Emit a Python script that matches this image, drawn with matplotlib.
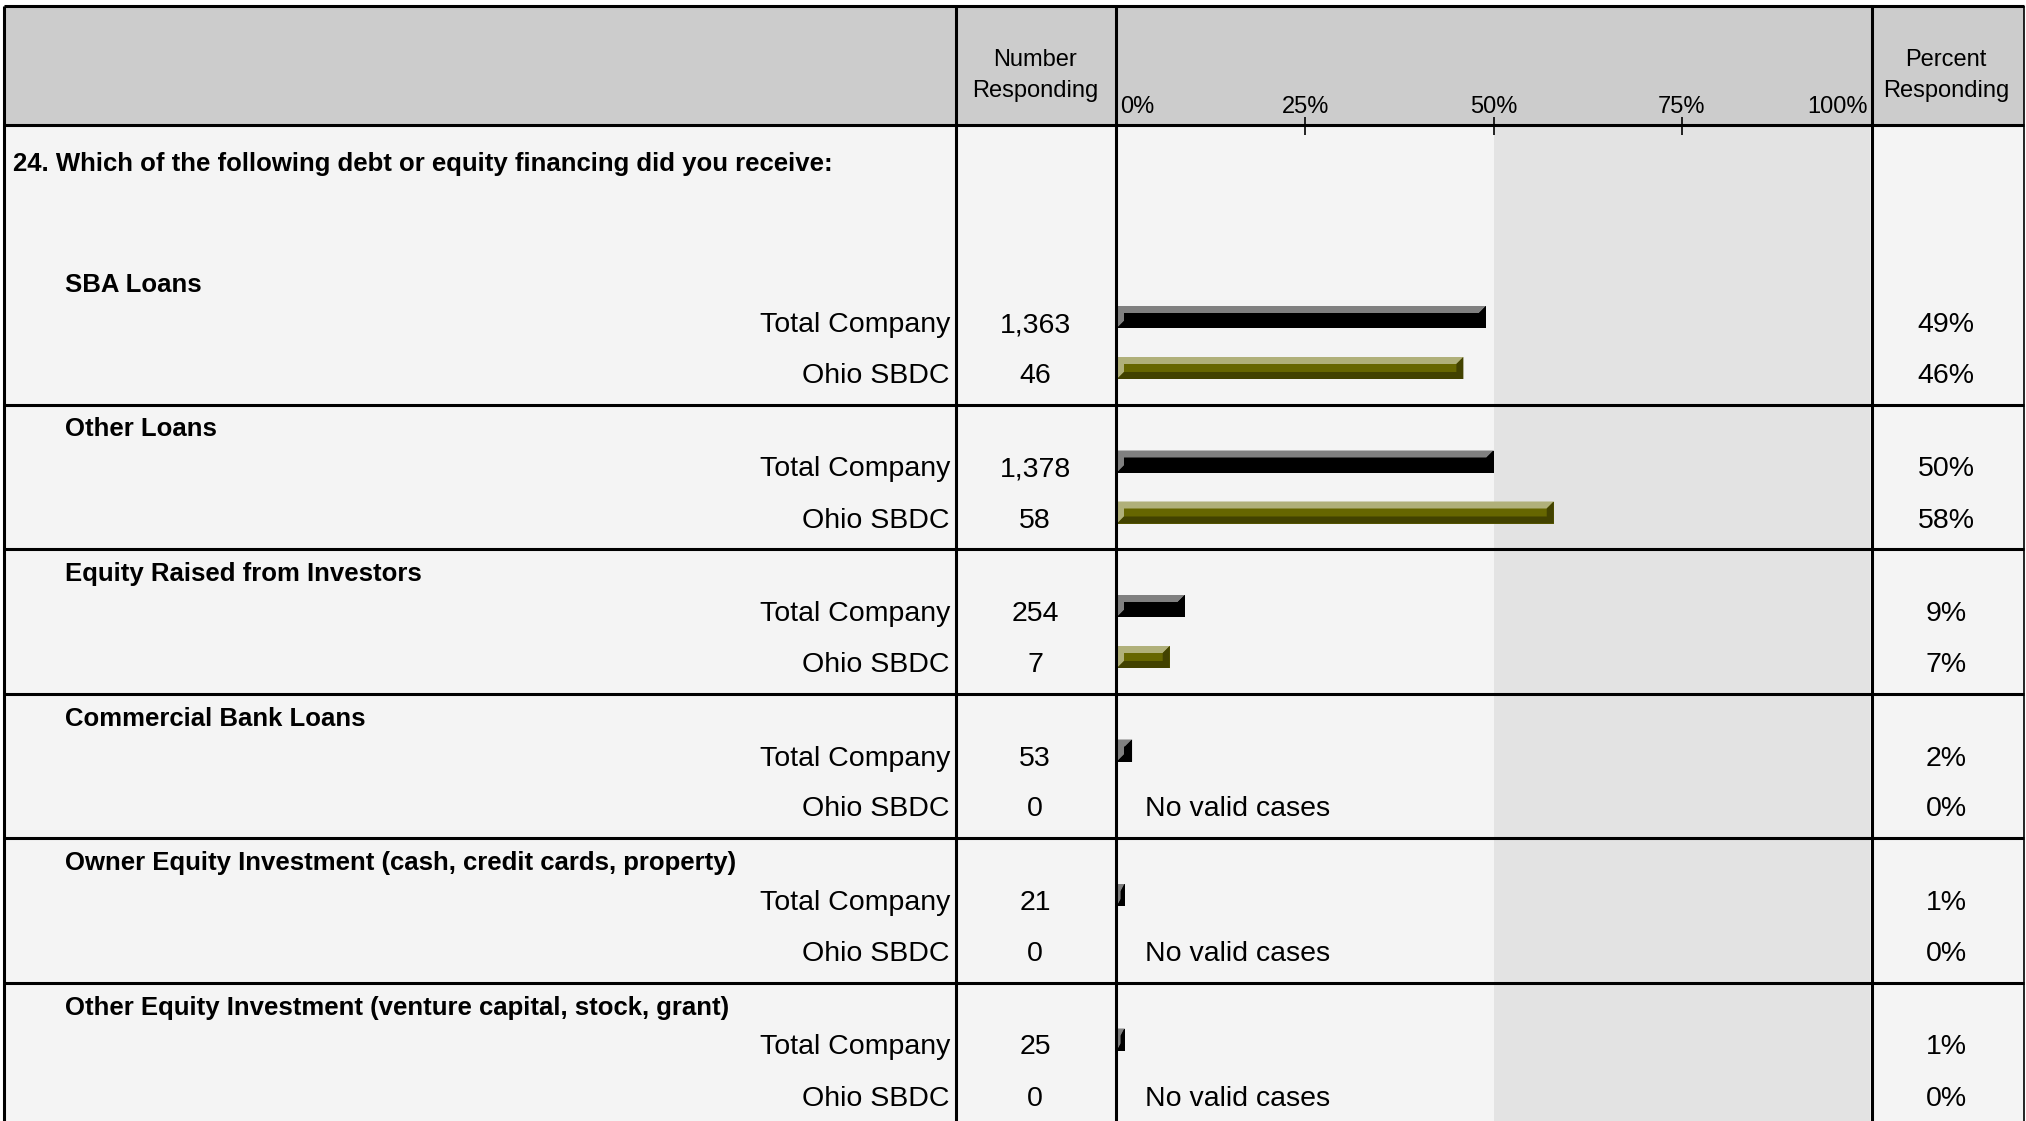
import matplotlib
matplotlib.use("Agg")
import matplotlib.pyplot as plt
from matplotlib.patches import Polygon, Rectangle

plt.rcParams['font.family'] = ['Liberation Sans', 'DejaVu Sans']

# ---------------- data ----------------
question = "24. Which of the following debt or equity financing did you receive:"
categories = ["SBA Loans", "Other Loans", "Equity Raised from Investors",
              "Commercial Bank Loans",
              "Owner Equity Investment (cash, credit cards, property)",
              "Other Equity Investment (venture capital, stock, grant)"]
groups = ["Total Company", "Ohio SBDC"]
total_n = [1363, 1378, 254, 53, 21, 25]
ohio_n = [46, 58, 7, 0, 0, 0]
total_pct = [49, 50, 9, 2, 1, 1]
ohio_pct = [46, 58, 7, 0, 0, 0]
tick_vals = [0, 25, 50, 75, 100]
tick_labels = ["0%", "25%", "50%", "75%", "100%"]
no_valid = "No valid cases"

# ---------------- layout (pixels) ----------------
W, H = 2026, 1121
fig = plt.figure(figsize=(W / 100, H / 100), dpi=100)

L, R, T = 3.5, 2024, 6
HB = 125                       # header bottom
C1, C2, C3 = 955.5, 1116, 1872  # column separators
X0, X100 = 1117, 1870           # bar scale 0% .. 100%
SEC0 = 260                      # virtual top of first section
SEC_H = 144.5
BAR_H = 22
BEV = 7
LW = 2.2
DY = 3                          # text baseline nudge

HEADER_BG = "#cccccc"
BODY_BG = "#f4f4f4"
SHADE = "#e3e3e3"

# background axes (pixel coords)
bg = fig.add_axes([0, 0, 1, 1])
bg.set_xlim(0, W)
bg.set_ylim(H, 0)
bg.axis("off")
bg.add_patch(Rectangle((L, T), R - L, HB - T, facecolor=HEADER_BG, edgecolor="none"))
bg.add_patch(Rectangle((L, HB), R - L, H - HB, facecolor=BODY_BG, edgecolor="none"))

# bar axes: x in percent, y in pixel rows
ax = fig.add_axes([X0 / W, 0, (X100 - X0) / W, 1])
ax.set_xlim(0, 100)
ax.set_ylim(H, 0)
ax.axis("off")
ax.patch.set_alpha(0)

# shaded half (50%..100%)
ax.add_patch(Rectangle((50, HB), 50, H - HB, facecolor=SHADE, edgecolor="none", zorder=1))

px_per_pct = (X100 - X0) / 100.0
bx_full = BEV / px_per_pct


def bevel_bar(y, value, body, light, dark):
    if value <= 0:
        return
    ax.barh(y, value, height=BAR_H, left=0, color=body, zorder=3)
    yt, yb = y - BAR_H / 2, y + BAR_H / 2
    bx = min(bx_full, value / 2)
    by = BEV
    x0, x1 = 0, value
    light_poly = [(x0, yt), (x1, yt), (x1 - bx, yt + by), (x0 + bx, yt + by),
                  (x0 + bx, yb - by), (x0, yb)]
    dark_poly = [(x1, yt), (x1, yb), (x0, yb), (x0 + bx, yb - by),
                 (x1 - bx, yb - by), (x1 - bx, yt + by)]
    ax.add_patch(Polygon(light_poly, closed=True, facecolor=light, edgecolor="none", zorder=4))
    ax.add_patch(Polygon(dark_poly, closed=True, facecolor=dark, edgecolor="none", zorder=4))


FS = 20.5
FSB = 18.5
FSH = 17

for i, cat in enumerate(categories):
    top = SEC0 + i * SEC_H
    y_cat = top + 22 + DY
    y_tot = top + 62 + DY
    y_ohio = top + 113 + DY
    bg.text(65, y_cat, cat, fontsize=FSB, fontweight="bold", ha="left", va="center")
    bg.text(950, y_tot, groups[0], fontsize=FS, ha="right", va="center")
    bg.text(950, y_ohio, groups[1], fontsize=FS, ha="right", va="center")
    bg.text(1035, y_tot, f"{total_n[i]:,}", fontsize=FS, ha="center", va="center")
    bg.text(1035, y_ohio, f"{ohio_n[i]:,}", fontsize=FS, ha="center", va="center")
    bg.text(1946, y_tot, f"{total_pct[i]}%", fontsize=FS, ha="center", va="center")
    bg.text(1946, y_ohio, f"{ohio_pct[i]}%", fontsize=FS, ha="center", va="center")

    bevel_bar(top + 57, total_pct[i], "#000000", "#808080", "#000000")
    if ohio_n[i] > 0:
        bevel_bar(top + 108, ohio_pct[i], "#666600", "#b0b07a", "#424200")
    else:
        ax.text(3.7, y_ohio, no_valid, fontsize=FS, ha="left", va="center", zorder=5)

bg.text(13, 161 + DY, question, fontsize=FSB, fontweight="bold", ha="left", va="center")

# header texts
bg.text(1035, 57 + DY, "Number", fontsize=FSH, ha="center", va="center")
bg.text(1035, 88 + DY, "Responding", fontsize=FSH, ha="center", va="center")
bg.text(1946, 57 + DY, "Percent", fontsize=FSH, ha="center", va="center")
bg.text(1946, 88 + DY, "Responding", fontsize=FSH, ha="center", va="center")
for v, lab in zip(tick_vals, tick_labels):
    ha = "left" if v == 0 else ("right" if v == 100 else "center")
    xv = v + (0.4 if v == 0 else (-0.3 if v == 100 else 0))
    ax.text(xv, 104 + DY, lab, fontsize=FSH, ha=ha, va="center", zorder=5)
ax.vlines([v for v in tick_vals if 0 < v < 100], 117, 135, color="black", lw=1.2, zorder=5)

# overlay lines (pixel coords) on top axes
ov = fig.add_axes([0, 0, 1, 1])
ov.set_xlim(0, W)
ov.set_ylim(H, 0)
ov.axis("off")
ov.patch.set_alpha(0)
ov.plot([L, R], [T, T], color="black", lw=LW, solid_capstyle="butt")
ov.plot([L, R], [HB, HB], color="black", lw=LW, solid_capstyle="butt")
for i in range(1, len(categories)):
    yy = SEC0 + i * SEC_H
    ov.plot([L, R], [yy, yy], color="black", lw=LW, solid_capstyle="butt")
for xx in (L, C1, C2, C3):
    ov.plot([xx, xx], [T, H], color="black", lw=LW, solid_capstyle="butt")
ov.plot([R, R], [T, H], color="black", lw=1.2, solid_capstyle="butt")

fig.savefig("out.png", dpi=100)
